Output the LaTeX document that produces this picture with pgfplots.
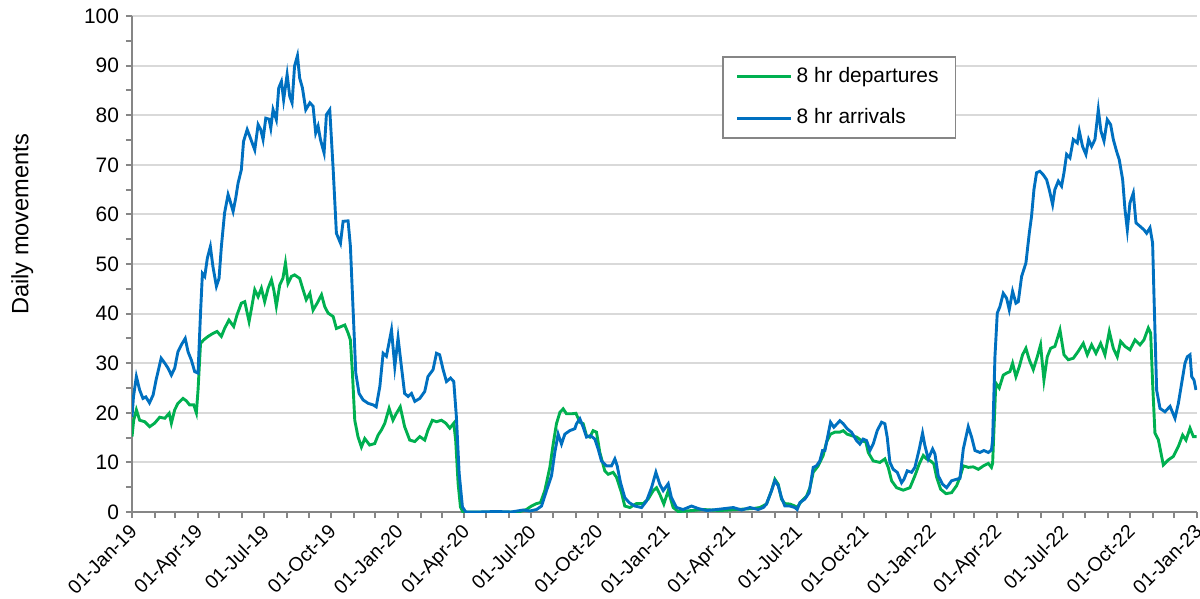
\documentclass[border=0pt]{standalone}
\usepackage{fontspec}
\setmainfont{Liberation Sans}
\usepackage{pgfplots}
\pgfplotsset{compat=1.18}

\definecolor{depgreen}{HTML}{00B050}
\definecolor{arrblue}{HTML}{0070C0}
\definecolor{axisgray}{HTML}{868686}
\definecolor{gridgray}{HTML}{D9D9D9}

\begin{document}
\begin{tikzpicture}
\useasboundingbox (-66bp,-43.5bp) rectangle (534bp,256bp);
\begin{axis}[
  scale only axis,
  width=532.5bp, height=248bp,
  xmin=0, xmax=1461, ymin=0, ymax=100,
  axis lines*=left,
  axis line style={axisgray, line width=1bp},
  xtick={0,90,181,273,365,456,547,639,731,821,912,1004,1096,1186,1277,1369,1461},
  xticklabels={01-Jan-19,01-Apr-19,01-Jul-19,01-Oct-19,01-Jan-20,01-Apr-20,01-Jul-20,01-Oct-20,01-Jan-21,01-Apr-21,01-Jul-21,01-Oct-21,01-Jan-22,01-Apr-22,01-Jul-22,01-Oct-22,01-Jan-23},
  minor xtick={31,59,120,151,212,243,304,334,396,425,486,517,578,609,670,700,762,790,851,882,943,974,1035,1065,1127,1155,1216,1247,1308,1339,1400,1430},
  ytick={0,10,...,100},
  minor ytick={5,15,...,95},
  tick align=outside,
  major tick length=3bp, minor tick length=3bp,
  every tick/.style={axisgray, line width=1bp},
  every minor tick/.style={axisgray, line width=1bp},
  ymajorgrids,
  major grid style={gridgray, line width=1bp},
  yticklabel style={font=\fontsize{10.5}{12}\selectfont},
  /pgf/number format/assume math mode=true,
  xticklabel style={font=\fontsize{9.8}{11}\selectfont, xshift=-1.8bp, yshift=-1bp, rotate=45, anchor=north east, inner sep=1bp},
  ylabel={Daily movements},
  ylabel style={font=\fontsize{11.85}{14}\selectfont, at={(axis description cs:-0.103,0.58)}, anchor=center},
  legend style={at={(axis description cs:0.554,0.919)}, anchor=north west,
    draw=axisgray, line width=0.75bp, fill=white,
    font=\fontsize{10.5}{12}\selectfont,
    inner xsep=6.5bp, inner ysep=3bp, row sep=7bp,
    nodes={inner sep=2bp, text height=7.6bp, text depth=2.2bp}},
  legend cell align=left,
  legend image code/.code={\draw[#1] (0bp,0bp) -- (27bp,0bp);},
]
\addplot[depgreen, line width=1.45bp] coordinates {
(0,15.2)(2.3,18.5)(6,20.6)(10.5,18.5)(17.4,18.2)(24.3,17.2)(31,17.9)(38,19.1)(45,18.9)(51,19.9)(54,17.9)(58.6,20.6)(63,21.9)(70,22.9)(74.6,22.4)(79,21.6)(84.7,21.6)(88.3,20.0)(90.6,24.6)(94,34.0)(98.4,34.7)(104.4,35.4)(111,36.0)(116.7,36.4)(122.6,35.4)(127,37.0)(133,38.7)(139.5,37.4)(144,39.7)(150,42.1)(154.7,42.4)(160.6,38.4)(164,41.1)(168.4,44.8)(173,43.4)(177.5,45.1)(182,42.4)(186.7,45.1)(191.3,46.8)(194.5,44.8)(198,41.5)(202.7,45.8)(207,47.1)(210.5,50.2)(214,46.1)(218.7,47.5)(223,47.8)(230,47.1)(234.7,44.8)(239,42.8)(244,44.1)(248.4,40.7)(254,42.1)(260,43.8)(264.4,41.4)(269,40.1)(276,39.4)(280.4,37.0)(287,37.4)(291.9,37.7)(296.4,36.1)(299.6,34.7)(302.4,28.0)(305.6,18.5)(310,15.2)(314.7,13.1)(319.3,14.8)(326,13.5)(333,13.8)(337.6,15.5)(342,16.5)(346.8,17.9)(352.7,20.9)(358,18.5)(362.8,19.9)(368,21.2)(374,17.2)(381,14.5)(388,14.2)(394.8,15.2)(401.6,14.5)(406,16.5)(412,18.5)(417.7,18.2)(424.5,18.5)(430.5,17.9)(436,16.9)(441.4,17.9)(444,14.5)(447.4,5.7)(450.6,1.0)(454,0)(500,0)(530,0)(541,0.5)(548,1.2)(555,1.7)(560.4,1.9)(566.3,4.3)(573.2,9.0)(577.8,13.7)(582.3,17.8)(587,20.1)(591.5,20.8)(596,19.8)(603,19.8)(609,19.9)(614.4,18.1)(619,17.8)(623.5,15.4)(628,15.1)(632.6,16.4)(637.2,16.1)(641.8,12.0)(648.6,8.3)(653.2,7.6)(660,8.0)(664.7,7.0)(671.5,3.9)(676,1.2)(683,0.9)(692,1.7)(701.3,1.7)(708,2.6)(715,4.3)(719.6,4.9)(724,3.6)(729.6,1.6)(735.6,4.3)(742.4,0.9)(749.3,0.1)(760.7,0.2)(783.6,0.5)(806.5,0.3)(829.4,0.5)(852.2,0.7)(861.3,0.9)(870.4,1.6)(877.3,4.3)(881.9,6.6)(886.5,5.6)(891,2.6)(895.6,1.7)(902.5,1.6)(909.3,1.2)(912.5,0.9)(918.5,2.2)(925.3,3.2)(930,4.9)(934.5,8.0)(941.3,9.3)(948.2,11.4)(952.8,14.1)(958.3,15.7)(964.2,16.1)(971,16.1)(975.7,16.4)(981,15.7)(987,15.4)(994,15.1)(1000.8,14.4)(1006.8,14.1)(1010,12.0)(1016.8,10.3)(1026,10.0)(1032.8,10.7)(1037.4,9.0)(1042,6.3)(1048.9,4.9)(1058,4.4)(1067.2,4.9)(1074,7.3)(1080,9.7)(1085.5,11.4)(1090,10.7)(1095.5,10.3)(1100,9.7)(1103.8,7.0)(1109.3,4.6)(1116.6,3.7)(1124.3,3.9)(1131.2,5.3)(1135.8,7.0)(1140.4,9.3)(1147.2,9.0)(1154,9.1)(1161,8.6)(1168,9.3)(1174.7,9.8)(1179,9.0)(1180.6,9.8)(1185,26.0)(1189.7,25.0)(1195.2,27.6)(1199.8,28.0)(1204.3,28.3)(1208,30.0)(1212.6,27.3)(1217.2,29.3)(1221.7,31.7)(1226.3,33.0)(1230.9,30.7)(1236.4,28.7)(1241.9,31.3)(1246.4,33.7)(1251,26.6)(1255.6,31.3)(1260.2,33.0)(1266.1,33.4)(1273,36.7)(1278.5,31.7)(1284.4,30.7)(1291.3,31.0)(1298.1,32.4)(1305,34.0)(1310.5,31.7)(1316.4,33.7)(1322.4,32.0)(1328.8,34.0)(1334.7,31.7)(1340.7,36.4)(1346.2,33.0)(1351.6,31.3)(1356.2,34.4)(1362.2,33.4)(1369,32.7)(1375.9,34.7)(1382.8,33.7)(1388.2,34.7)(1394.2,37.1)(1397.4,36.1)(1400.1,26.0)(1403.3,15.9)(1407.9,14.6)(1414.8,9.5)(1421.6,10.5)(1428.5,11.2)(1435.4,13.2)(1441.3,15.5)(1445.9,14.5)(1451.4,16.9)(1456,15.2)(1460.5,15.2)
};
\addlegendentry{8 hr departures}
\addplot[arrblue, line width=1.45bp] coordinates {
(0,19.2)(2,23.2)(6,27.3)(10.5,24.6)(15,22.9)(19,23.2)(24,22.0)(29,23.6)(33,26.6)(40,31.0)(45,30.0)(49.5,29.0)(54,27.6)(58.6,29.0)(63,32.3)(67.7,33.7)(73,35.0)(76.9,32.3)(81.5,30.6)(86,28.3)(90.6,28.0)(94,40.1)(96.6,48.1)(99.8,47.5)(103.4,51.2)(107.5,53.5)(111,49.5)(115.8,45.5)(119.4,47.1)(122.6,53.5)(127,60.3)(131.8,64.0)(134,63.0)(138.7,60.6)(142.3,63.3)(145.5,66.3)(150,69.0)(153,74.7)(158,77.1)(162.4,75.4)(168.4,73.0)(173,78.1)(176.6,77.1)(179.8,75.1)(183.5,79.4)(188,79.2)(190.4,77.4)(193.5,81.1)(198,79.1)(201.3,85.5)(205,86.8)(208,83.1)(212.8,88.2)(216.4,83.8)(219.6,82.5)(223,89.9)(227,92.0)(230,87.5)(233.8,85.5)(238.4,81.1)(244,82.5)(248.4,81.8)(252,76.4)(255.3,77.8)(258.5,75.1)(263.5,72.4)(266.7,80.1)(271.3,81.1)(276,69.0)(280.4,56.2)(286,54.2)(289.6,58.6)(296.4,58.7)(299.6,53.6)(303.3,40.8)(307,28.0)(311.5,23.9)(317,22.6)(324,21.9)(330.7,21.6)(335,21.2)(340,25.3)(344.5,32.0)(349,31.4)(356,36.7)(360.5,29.3)(365,35.1)(369.6,29.3)(374,23.9)(378.8,23.3)(383.4,23.9)(388,22.3)(394.8,22.9)(401.6,24.3)(406,27.3)(413,28.7)(417.7,32.0)(422,31.7)(426.8,28.7)(431.4,26.3)(437,27.0)(441.4,26.3)(445,19.2)(448.8,7.8)(453.3,1.0)(458,0)(477,0)(500,0.1)(520,0)(536.6,0.4)(545.7,0.2)(555,0.5)(561.8,1.2)(568.6,4.3)(575.5,7.3)(580,12.0)(584.6,15.7)(589.2,13.7)(593.8,15.7)(600.6,16.4)(607.5,16.8)(609.8,17.8)(614.4,18.8)(619,17.1)(623.5,15.1)(629,15.4)(635,14.7)(639.5,12.7)(644,10.3)(651,9.3)(657.8,9.3)(662.4,10.7)(665.6,9.3)(670.2,5.9)(676,2.9)(682,1.9)(689.8,1.2)(699,0.9)(705.8,2.2)(712.7,4.9)(718.7,8.0)(724,5.6)(728.7,4.3)(735.6,5.7)(740,2.9)(747,0.9)(756,0.5)(767.6,1.2)(776.8,0.7)(788.2,0.3)(802,0.5)(813.4,0.7)(824.8,0.9)(836.2,0.4)(847.7,0.9)(859,0.5)(866,0.9)(870.4,1.6)(877.3,4.3)(881.9,6.3)(886.5,5.3)(891,2.9)(895.6,1.2)(902.5,1.2)(909.3,0.9)(912.5,0.5)(916.2,1.9)(923,2.6)(929,3.9)(934.5,9.0)(939,9.3)(943.6,10.3)(947.3,12.4)(950.5,12.4)(955,15.7)(958.3,18.1)(962.8,17.1)(967.4,17.8)(971,18.4)(975.7,17.8)(981,16.8)(987,16.1)(994,14.4)(998.5,13.7)(1003,14.7)(1007.7,14.4)(1012.3,12.4)(1016.8,13.7)(1022.3,16.4)(1028.3,18.1)(1032.8,17.8)(1036,15.1)(1039.7,10.0)(1044.3,8.6)(1049.8,8.0)(1055.7,5.9)(1059,6.6)(1063.5,8.3)(1069.4,8.0)(1074,9.0)(1080,12.7)(1084.5,15.9)(1087.7,13.4)(1092.3,10.7)(1098.3,12.7)(1101.5,11.7)(1106,7.3)(1112,5.6)(1117.5,4.9)(1124.3,6.3)(1131.2,6.6)(1135.8,6.8)(1140.4,12.7)(1144,15.1)(1147.2,17.2)(1151.8,15.1)(1156.4,12.4)(1163.2,12.0)(1168.7,12.4)(1174.7,12.0)(1179,12.5)(1180.6,14.5)(1183.8,31.3)(1187,40.1)(1190.6,41.4)(1195.2,44.1)(1199.8,43.1)(1203.4,40.8)(1208,44.5)(1212.6,42.1)(1215.8,42.4)(1220.4,47.5)(1226.3,50.2)(1230.9,56.2)(1234,59.6)(1237.3,65.0)(1240.9,68.4)(1245.5,68.7)(1250,68.0)(1254.7,67.0)(1258.3,65.0)(1262.9,62.0)(1266,65.0)(1270.7,66.7)(1275.2,65.7)(1278.5,68.4)(1282.1,72.1)(1286.7,71.4)(1291.3,75.1)(1296.8,74.4)(1299.5,76.8)(1304,73.7)(1308.6,72.1)(1312.3,75.1)(1316.4,73.7)(1321,75.1)(1325.6,81.1)(1329.2,76.8)(1333.4,74.8)(1337.9,79.1)(1342.5,78.1)(1346.2,75.1)(1350.7,72.7)(1354.4,71.0)(1359,67.0)(1362.2,61.0)(1365.4,56.9)(1369,62.3)(1373.6,64.3)(1377.3,58.3)(1382.8,57.6)(1388.2,56.9)(1391.9,56.2)(1396.5,57.3)(1400.1,54.2)(1402,43.5)(1405.6,24.6)(1410.2,20.9)(1417,20.2)(1424,21.3)(1430.8,18.9)(1435.4,21.9)(1440,26.0)(1444.5,30.0)(1447.7,31.3)(1451.4,31.7)(1453.7,27.3)(1456.9,26.6)(1459.6,24.6)
};
\addlegendentry{8 hr arrivals}
\end{axis}
\end{tikzpicture}
\end{document}
